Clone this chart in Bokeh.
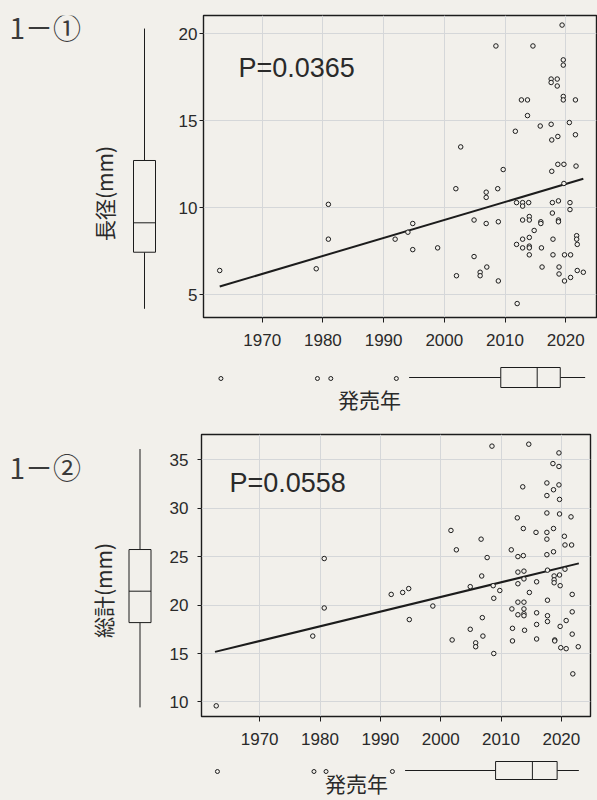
from bokeh.plotting import figure
from bokeh.layouts import row, column
from bokeh.models import Range1d, FixedTicker, Label
from bokeh.embed import file_html
from bokeh.resources import INLINE

PAPER = "#f2f0eb"
INK = "#1c1c1c"
TXT = "#2a2a2a"
GRID = "#d5d7d9"
TICK_FONT = "Liberation Sans"
JP_FONT = "Noto Sans CJK JP"

# ---------------- data ----------------
year_ticks = [1970, 1980, 1990, 2000, 2010, 2020]
len_ticks = [5, 10, 15, 20]
tot_ticks = [10, 15, 20, 25, 30, 35]

panel_titles = ["1\uff0d\u2460", "1\uff0d\u2461"]
y_titles = ["長径(mm)", "総計(mm)"]
x_title = "発売年"
p_texts = ["P=0.0365", "P=0.0558"]

year1 = [1963.0, 1978.9, 1980.9, 1980.9, 1991.9, 1994.0, 1994.8, 1994.8, 1998.9, 2001.9,
         2002.0, 2002.7, 2004.9, 2004.9, 2005.9, 2005.9, 2006.9, 2006.9, 2006.9, 2007.0,
         2008.5, 2008.8, 2008.9, 2008.9, 2009.7, 2011.7, 2011.9, 2011.9, 2012.0, 2012.7,
         2012.9, 2012.9, 2012.9, 2012.9, 2012.9, 2013.7, 2013.7, 2013.9, 2014.0, 2014.0,
         2014.0, 2014.0, 2014.0, 2014.0, 2014.6, 2014.8, 2015.8, 2015.9, 2015.9, 2016.0,
         2016.1, 2017.6, 2017.7, 2017.7, 2017.8, 2017.8, 2017.9, 2017.9, 2017.6, 2017.6,
         2018.6, 2018.6, 2018.7, 2018.7, 2018.8, 2018.8, 2018.8, 2018.9, 2018.9, 2019.4,
         2019.6, 2019.6, 2019.6, 2019.6, 2019.7, 2019.7, 2019.8, 2019.8, 2020.6, 2020.7,
         2020.7, 2020.8, 2020.8, 2021.6, 2021.6, 2021.7, 2021.8, 2021.8, 2021.9, 2021.9,
         2022.9]
len1 = [6.4, 6.5, 10.2, 8.2, 8.2, 8.6, 9.1, 7.6, 7.7, 11.1,
        6.1, 13.5, 9.3, 7.2, 6.3, 6.1, 10.9, 10.6, 9.1, 6.6,
        19.3, 11.1, 9.2, 5.8, 12.2, 14.4, 10.3, 7.9, 4.5, 16.2,
        10.3, 10.1, 8.2, 7.7, 9.3, 16.2, 15.3, 10.3, 9.5, 9.3,
        8.3, 7.8, 7.7, 7.3, 19.3, 8.7, 14.7, 9.2, 9.1, 7.7,
        6.6, 14.8, 13.9, 12.1, 10.3, 9.7, 8.2, 7.3, 17.4, 17.2,
        17.4, 17.0, 14.1, 12.5, 10.4, 9.3, 9.2, 6.6, 6.2, 20.5,
        18.5, 18.2, 16.4, 16.2, 12.5, 11.4, 7.3, 5.8, 14.9, 10.3,
        9.9, 7.3, 6.0, 16.2, 14.2, 12.4, 8.4, 8.2, 7.9, 6.4,
        6.3]

year2 = [1962.8, 1978.8, 1980.7, 1980.7, 1991.8, 1993.7, 1994.7, 1994.8, 1998.7, 2001.7,
         2001.9, 2002.6, 2004.9, 2004.9, 2005.8, 2005.8, 2006.7, 2006.8, 2006.9, 2007.0,
         2007.7, 2008.5, 2008.7, 2008.8, 2008.8, 2009.8, 2011.7, 2011.8, 2011.9, 2011.9,
         2012.7, 2012.8, 2012.8, 2012.8, 2012.8, 2012.8, 2013.6, 2013.7, 2013.7, 2013.8,
         2013.8, 2013.8, 2013.8, 2013.8, 2013.8, 2013.9, 2014.6, 2014.7, 2015.8, 2015.9,
         2015.9, 2015.9, 2015.9, 2017.6, 2017.6, 2017.6, 2017.6, 2017.6, 2017.6, 2017.7,
         2017.7, 2017.7, 2017.7, 2018.6, 2018.7, 2018.7, 2018.7, 2018.8, 2018.8, 2018.8,
         2018.9, 2018.9, 2019.6, 2019.6, 2019.6, 2019.7, 2019.7, 2019.7, 2019.8, 2019.8,
         2019.9, 2020.5, 2020.6, 2020.6, 2020.8, 2020.8, 2021.6, 2021.7, 2021.8, 2021.8,
         2021.8, 2021.9, 2022.8]
tot2 = [9.6, 16.8, 24.8, 19.7, 21.1, 21.3, 21.7, 18.5, 19.9, 27.7,
        16.4, 25.7, 21.9, 17.5, 16.1, 15.7, 26.8, 23.0, 18.7, 16.8,
        24.9, 36.4, 22.0, 20.7, 15.0, 21.5, 25.7, 19.6, 17.6, 16.3,
        29.0, 23.4, 22.2, 25.0, 20.3, 19.0, 32.2, 27.9, 25.1, 23.5,
        22.7, 20.3, 19.6, 19.1, 18.9, 17.4, 36.6, 21.3, 27.5, 22.4,
        19.2, 18.0, 16.5, 32.6, 31.3, 29.5, 27.5, 26.8, 25.2, 23.6,
        20.5, 18.9, 18.3, 34.6, 31.9, 27.9, 25.5, 23.0, 22.6, 22.3,
        16.4, 16.3, 35.7, 34.3, 32.4, 30.9, 29.4, 23.1, 22.0, 17.8,
        15.6, 27.1, 26.2, 23.7, 18.4, 15.5, 29.1, 26.2, 21.1, 19.3,
        17.0, 12.9, 15.7]

fit1_year = [1963.0, 2022.9]
fit1_len = [5.48, 11.67]
fit2_year = [1962.6, 2022.9]
fit2_tot = [15.17, 24.3]

# box statistics: low whisker, Q1, median, Q3, high whisker
len_box = [4.2, 7.45, 9.14, 12.72, 20.3]
tot_box = [9.44, 18.19, 21.43, 25.73, 36.1]
year_box1 = [1994.2, 2009.3, 2015.3, 2019.1, 2023.2]
year_out1 = [1963.2, 1979.1, 1981.3, 1992.1]
year_box2 = [1994.1, 2009.1, 2015.2, 2019.3, 2022.9]
year_out2 = [1963.0, 1979.0, 1981.0, 1992.0]

# ---------------- layout constants (page pixels) ----------------
LEFT_W = 163
MAIN_W = 434


def fig(**kw):
    return figure(output_backend="svg", toolbar_location=None,
                  background_fill_color=None, border_fill_color=PAPER, **kw)


def add_label(p, text, sx, sy, font, size, align="left", angle=0.0, color=TXT):
    # sx: px from frame left, sy: px up from frame bottom
    p.add_layout(Label(x=sx, y=sy, x_units="screen", y_units="screen",
                       text=text, text_font=font, text_font_size=size,
                       text_color=color, text_align=align, text_baseline="middle",
                       angle=angle))


def main_fig(height, top, bottom, left, right, xr, yr, yticks, ystand,
             xs, ys, fx, fy, ptext, ppos):
    p = fig(width=MAIN_W, height=height, x_range=Range1d(*xr), y_range=Range1d(*yr),
            min_border_left=left, min_border_right=right, min_border_top=top,
            min_border_bottom=bottom, outline_line_color=INK, outline_line_width=1.4)
    p.xaxis.ticker = FixedTicker(ticks=year_ticks)
    p.yaxis.ticker = FixedTicker(ticks=yticks)
    for ax in p.axis:
        ax.axis_line_color = None
        ax.major_tick_in = 0
        ax.minor_tick_line_color = None
        ax.major_tick_line_color = INK
        ax.major_label_text_font = TICK_FONT
        ax.major_label_text_font_size = "17px"
        ax.major_label_text_color = TXT
    p.xaxis.major_tick_out = 5
    p.xaxis.major_label_standoff = 11
    p.yaxis.major_tick_out = 4
    p.yaxis.major_label_standoff = ystand
    p.grid.grid_line_color = GRID
    p.line(fx, fy, line_color=INK, line_width=2)
    p.scatter(xs, ys, marker="circle", size=4.5, fill_color=PAPER,
              line_color=INK, line_width=1)
    add_label(p, ptext, ppos[0], ppos[1], TICK_FONT, "27px")
    return p


def left_fig(height, top, bottom, yr, box, cx, title, tpos, ylabel, lpos):
    p = fig(width=LEFT_W, height=height, x_range=Range1d(0, LEFT_W), y_range=yr,
            min_border_left=0, min_border_right=0, min_border_top=top,
            min_border_bottom=bottom, x_axis_location=None, y_axis_location=None,
            outline_line_color=None)
    p.grid.grid_line_color = None
    hw = 11
    p.segment(x0=[cx, cx], y0=[box[0], box[3]], x1=[cx, cx], y1=[box[1], box[4]],
              line_color=INK, line_width=1)
    p.quad(left=[cx - hw], right=[cx + hw], bottom=[box[1]], top=[box[3]],
           fill_color=PAPER, line_color=INK, line_width=1)
    p.segment(x0=[cx - hw], y0=[box[2]], x1=[cx + hw], y1=[box[2]],
              line_color=INK, line_width=1)
    add_label(p, title, tpos[0], tpos[1], JP_FONT, "28px", color="#3a3a3a")
    add_label(p, ylabel, lpos[0], lpos[1], JP_FONT, "21px", align="center",
              angle=1.5707963)
    return p


def bottom_fig(height, left, right, xr, box, outs, cy, hh, lpos):
    p = fig(width=MAIN_W, height=height, x_range=xr, y_range=Range1d(height, 0),
            min_border_left=left, min_border_right=right, min_border_top=0,
            min_border_bottom=0, x_axis_location=None, y_axis_location=None,
            outline_line_color=None)
    p.grid.grid_line_color = None
    p.segment(x0=[box[0], box[3]], y0=[cy, cy], x1=[box[1], box[4]], y1=[cy, cy],
              line_color=INK, line_width=1)
    p.quad(left=[box[1]], right=[box[3]], bottom=[cy + hh], top=[cy - hh],
           fill_color=PAPER, line_color=INK, line_width=1)
    p.segment(x0=[box[2]], y0=[cy - hh], x1=[box[2]], y1=[cy + hh],
              line_color=INK, line_width=1)
    p.scatter(outs, [cy + 1] * len(outs), marker="circle", size=4, fill_color=PAPER,
              line_color=INK, line_width=1)
    add_label(p, x_title, lpos[0], lpos[1], JP_FONT, "21px", align="center")
    return p


# ---------------- panel 1 (page y 0..415) ----------------
H1, T1, B1, BX1 = 357, 15, 40, 58       # frame: y 15..317, x 203..596
p1 = main_fig(H1, T1, B1, 40, 1, (1960.33, 2025.07), (3.7, 21.05), len_ticks, 2,
              year1, len1, fit1_year, fit1_len, p_texts[0], (35, 250))
bx1 = bottom_fig(BX1, 40, 1, p1.x_range, year_box1, year_out1, 20, 10, (166, 17))
l1 = left_fig(H1 + BX1, T1, B1 + BX1, p1.y_range, len_box, 144,
              panel_titles[0], (9, 291), y_titles[0], (103, 124))

# ---------------- panel 2 (page y 415..800) ----------------
H2, T2, B2, BX2 = 339, 19, 38, 46       # frame: y 434..716, x 201..590
p2 = main_fig(H2, T2, B2, 38, 7, (1960.36, 2024.83), (8.5, 37.6), tot_ticks, 9,
              year2, tot2, fit2_year, fit2_tot, p_texts[1], (28, 234))
bx2 = bottom_fig(BX2, 38, 7, p2.x_range, year_box2, year_out2, 16, 9, (155, 18))
l2 = left_fig(H2 + BX2, T2, B2 + BX2, p2.y_range, tot_box, 139.5,
              panel_titles[1], (9, 250), y_titles[1], (102, 126))

layout = column(row(l1, column(p1, bx1)), row(l2, column(p2, bx2)),
                styles={"background-color": PAPER})

open("out.html", "w").write(file_html(layout, INLINE))
